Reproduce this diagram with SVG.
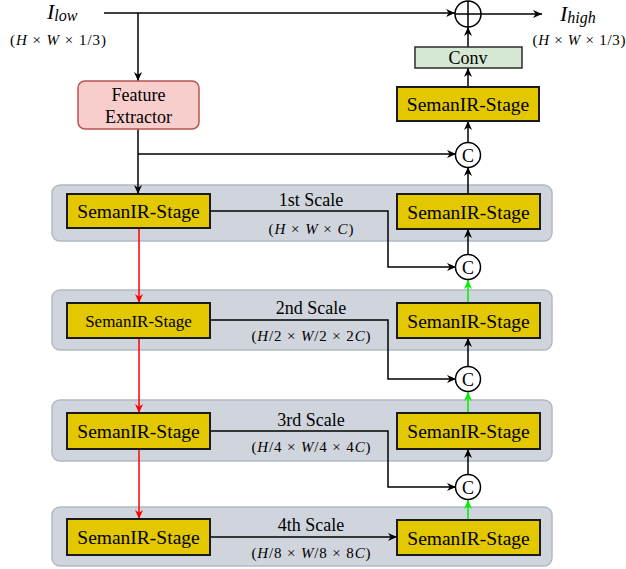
<svg xmlns="http://www.w3.org/2000/svg" width="626" height="569" viewBox="0 0 626 569" font-family="Liberation Serif, serif">
<style>
text{fill:#000}
.scale{fill:#d0d5dd;stroke:#b3b9c3;stroke-width:1.5}
.stage{fill:#e3c800;stroke:#1a1a1a;stroke-width:2}
.st{font-size:19.5px;text-anchor:middle}
.lbl{font-size:18px;text-anchor:middle}
.dim{font-size:15px;text-anchor:middle}
.it{font-style:italic}
.cc{fill:#fff;stroke:#000;stroke-width:1.5}
.ln{fill:none;stroke:#000;stroke-width:1.5}
.red{fill:none;stroke:#ff0000;stroke-width:1.5}
.grn{fill:none;stroke:#00ee00;stroke-width:1.5}
</style>
<defs>
<marker id="ab" viewBox="0 0 10 10" refX="10" refY="5" markerWidth="9" markerHeight="9" markerUnits="userSpaceOnUse" orient="auto"><path d="M0,0.5 L10,5 L0,9.5 L3,5 z" fill="#000"/></marker>
<marker id="ar" viewBox="0 0 10 10" refX="10" refY="5" markerWidth="9" markerHeight="9" markerUnits="userSpaceOnUse" orient="auto"><path d="M0,0.5 L10,5 L0,9.5 L3,5 z" fill="#ff0000"/></marker>
<marker id="ag" viewBox="0 0 10 10" refX="10" refY="5" markerWidth="9" markerHeight="9" markerUnits="userSpaceOnUse" orient="auto"><path d="M0,0.5 L10,5 L0,9.5 L3,5 z" fill="#00ee00"/></marker>
</defs>

<g id="scale1"><rect class="scale" x="52" y="185" width="500" height="56" rx="8"/></g>
<g id="scale2"><rect class="scale" x="52" y="290" width="500" height="60" rx="8"/></g>
<g id="scale3"><rect class="scale" x="52" y="400" width="500" height="61" rx="8"/></g>
<g id="scale4"><rect class="scale" x="52" y="507" width="500" height="59" rx="8"/></g>

<g id="connectors">
<path class="ln" d="M104,13 H455" marker-end="url(#ab)"/>
<path class="ln" d="M481,14 H542" marker-end="url(#ab)"/>
<path class="ln" d="M138,13 V81" marker-end="url(#ab)"/>
<path class="ln" d="M138,129 V194" marker-end="url(#ab)"/>
<path class="ln" d="M138,154 H456" marker-end="url(#ab)"/>
<path class="ln" d="M468,47 V27" marker-end="url(#ab)"/>
<path class="ln" d="M468,87 V68" marker-end="url(#ab)"/>
<path class="ln" d="M468,143 V121" marker-end="url(#ab)"/>
<path class="ln" d="M468,194 V167" marker-end="url(#ab)"/>
<path class="ln" d="M468,255 V229" marker-end="url(#ab)"/>
<path class="ln" d="M468,367 V338" marker-end="url(#ab)"/>
<path class="ln" d="M468,475 V449" marker-end="url(#ab)"/>
<path class="grn" d="M468,303 V280" marker-end="url(#ag)"/>
<path class="grn" d="M468,413 V392" marker-end="url(#ag)"/>
<path class="grn" d="M468,520 V500" marker-end="url(#ag)"/>
<path class="red" d="M139,228 V303" marker-end="url(#ar)"/>
<path class="red" d="M139,338 V413" marker-end="url(#ar)"/>
<path class="red" d="M139,449 V519" marker-end="url(#ar)"/>
<path class="ln" d="M210,211 H388 V267 H456" marker-end="url(#ab)"/>
<path class="ln" d="M210,320 H388 V379 H456" marker-end="url(#ab)"/>
<path class="ln" d="M210,431 H388 V487 H456" marker-end="url(#ab)"/>
<path class="ln" d="M210,537 H397" marker-end="url(#ab)"/>
</g>

<g id="input">
<text x="47" y="19" class="it" font-size="22">I<tspan font-size="16" dy="2">low</tspan></text>
<text class="dim" x="58" y="45" textLength="96">(<tspan class="it">H</tspan> × <tspan class="it">W</tspan> × 1/3)</text>
</g>
<g id="output">
<text x="560" y="21" class="it" font-size="22">I<tspan font-size="16" dy="2">high</tspan></text>
<text class="dim" x="579" y="45" textLength="93">(<tspan class="it">H</tspan> × <tspan class="it">W</tspan> × 1/3)</text>
</g>

<g id="plus">
<circle class="cc" cx="468" cy="14" r="13"/>
<path class="ln" d="M455,14 H481 M468,1 V27"/>
</g>

<g id="conv">
<rect x="415" y="47" width="107" height="21" fill="#d5e8d4" stroke="#2b2b2b" stroke-width="1.5"/>
<text class="lbl" x="468" y="64">Conv</text>
</g>

<g id="feature-extractor">
<rect x="78" y="81" width="121" height="48" rx="7" fill="#f8cecc" stroke="#b85450" stroke-width="1.5"/>
<text class="lbl" x="138.5" y="101" font-size="19">Feature</text>
<text class="lbl" x="138.5" y="123" font-size="19">Extractor</text>
</g>

<g id="stage-top"><rect class="stage" x="397" y="87" width="142" height="34"/><text class="st" x="468" y="111">SemanIR-Stage</text></g>

<g id="c1"><circle class="cc" cx="468" cy="155" r="12.5"/><text class="lbl" x="468" y="161.5">C</text></g>
<g id="c2"><circle class="cc" cx="468" cy="267" r="12.5"/><text class="lbl" x="468" y="273.5">C</text></g>
<g id="c3"><circle class="cc" cx="468" cy="379" r="12.5"/><text class="lbl" x="468" y="385.5">C</text></g>
<g id="c4"><circle class="cc" cx="468" cy="487" r="12.5"/><text class="lbl" x="468" y="493.5">C</text></g>

<g id="enc1"><rect class="stage" x="67" y="194" width="143" height="34"/><text class="st" x="138.5" y="218">SemanIR-Stage</text></g>
<g id="dec1"><rect class="stage" x="397" y="194" width="143" height="35"/><text class="st" x="468.5" y="218.5">SemanIR-Stage</text></g>
<g id="label1">
<text class="lbl" x="311" y="206">1st Scale</text>
<text class="dim" x="311" y="234" textLength="85">(<tspan class="it">H</tspan> × <tspan class="it">W</tspan> × <tspan class="it">C</tspan>)</text>
</g>

<g id="enc2"><rect class="stage" x="67" y="303" width="143" height="35"/><text class="st" x="138.5" y="327" style="font-size:17px">SemanIR-Stage</text></g>
<g id="dec2"><rect class="stage" x="397" y="303" width="143" height="35"/><text class="st" x="468.5" y="327.5">SemanIR-Stage</text></g>
<g id="label2">
<text class="lbl" x="311" y="314">2nd Scale</text>
<text class="dim" x="311" y="341" textLength="119">(<tspan class="it">H</tspan>/2 × <tspan class="it">W</tspan>/2 × 2<tspan class="it">C</tspan>)</text>
</g>

<g id="enc3"><rect class="stage" x="67" y="413" width="143" height="36"/><text class="st" x="138.5" y="438">SemanIR-Stage</text></g>
<g id="dec3"><rect class="stage" x="397" y="413" width="143" height="36"/><text class="st" x="468.5" y="438">SemanIR-Stage</text></g>
<g id="label3">
<text class="lbl" x="311" y="426">3rd Scale</text>
<text class="dim" x="311" y="452" textLength="119">(<tspan class="it">H</tspan>/4 × <tspan class="it">W</tspan>/4 × 4<tspan class="it">C</tspan>)</text>
</g>

<g id="enc4"><rect class="stage" x="67" y="519" width="143" height="36"/><text class="st" x="138.5" y="544">SemanIR-Stage</text></g>
<g id="dec4"><rect class="stage" x="397" y="520" width="143" height="35"/><text class="st" x="468.5" y="544.5">SemanIR-Stage</text></g>
<g id="label4">
<text class="lbl" x="311" y="531">4th Scale</text>
<text class="dim" x="311" y="558" textLength="119">(<tspan class="it">H</tspan>/8 × <tspan class="it">W</tspan>/8 × 8<tspan class="it">C</tspan>)</text>
</g>
</svg>
